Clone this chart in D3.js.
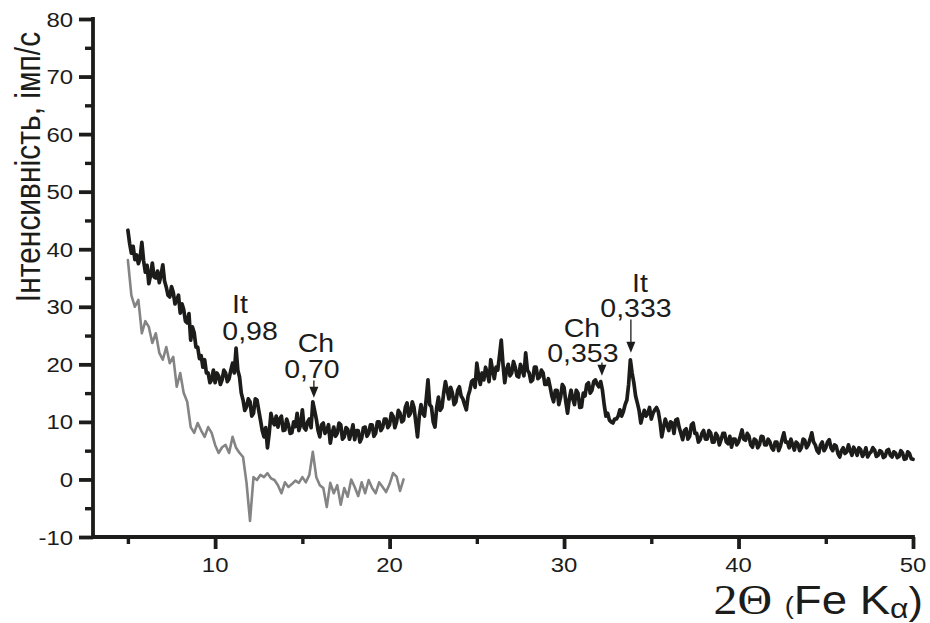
<!DOCTYPE html>
<html><head><meta charset="utf-8">
<script src="https://cdn.jsdelivr.net/npm/d3@7"></script>
<style>body{margin:0;background:#fff}svg{display:block}</style>
</head><body>
<svg id="chart" width="930" height="623"></svg>
<script>
// ---- data ----
const xMajorTicks = [10, 20, 30, 40, 50];
const xMinorTicks = [5, 15, 25, 35, 45];
const yMajorTicks = [-10, 0, 10, 20, 30, 40, 50, 60, 70, 80];
const yMinorTicks = [-5, 5, 15, 25, 35, 45, 55, 65, 75];

// sample: 2θ from 5.0 to 50.0, step 0.1
const sampleStart = 5.0;
const sampleStep = 0.1;
const sampleIntensity = [
  43.3, 41.0, 39.3, 40.5, 38.2, 39.0, 37.5, 38.5, 41.2, 38.0,
  36.0, 37.2, 34.0, 35.5, 37.6, 35.2, 35.0, 36.2, 34.2, 35.5,
  37.3, 34.5, 33.4, 32.0, 31.7, 33.5, 32.5, 30.5, 31.2, 32.0,
  28.9, 30.5, 29.5, 27.5, 27.2, 28.8, 24.2, 26.5, 25.5, 23.0,
  23.0, 21.0, 21.5, 19.5, 20.8, 18.5, 18.5, 16.8, 17.3, 19.0,
  16.8, 18.5, 18.0, 16.5, 17.3, 19.0, 18.5, 17.0, 17.5, 19.0,
  20.2, 18.5, 22.8, 19.0, 17.8, 15.0, 13.8, 12.0, 12.6, 14.0,
  13.5, 11.0, 11.5, 14.0, 13.8, 12.0, 10.3, 8.5, 7.4, 9.0,
  5.5, 8.0, 11.5, 10.0, 9.5, 11.0, 9.1, 10.5, 11.0, 8.5,
  8.6, 10.5, 9.5, 8.0, 8.1, 10.0, 9.2, 11.5, 8.5, 9.5,
  12.1, 9.0, 8.6, 10.0, 10.5, 9.0, 13.5, 12.0, 10.5, 8.5,
  7.4, 9.5, 9.8, 8.0, 8.5, 9.5, 6.3, 8.0, 9.1, 7.5,
  8.0, 9.8, 9.5, 7.0, 7.4, 9.0, 8.7, 7.0, 8.1, 9.5,
  6.9, 8.5, 8.5, 6.5, 7.2, 9.0, 9.1, 7.5, 8.0, 9.5,
  9.5, 7.5, 8.0, 10.0, 10.0, 8.5, 9.0, 10.5, 10.5, 9.0,
  9.5, 11.5, 11.0, 9.0, 10.0, 12.0, 11.5, 10.0, 10.3, 12.5,
  13.3, 11.0, 11.5, 13.5, 12.5, 10.0, 7.4, 11.0, 13.0, 11.5,
  11.0, 14.0, 17.3, 13.0, 12.6, 10.0, 9.1, 12.5, 14.3, 12.0,
  12.5, 15.0, 17.0, 15.5, 14.0, 16.0, 15.0, 13.0, 13.5, 15.5,
  16.1, 14.5, 14.0, 13.0, 12.1, 14.5, 15.5, 17.0, 17.3, 16.0,
  20.2, 18.0, 16.5, 18.5, 17.3, 19.5, 18.5, 17.0, 20.8, 19.0,
  17.5, 19.5, 19.0, 21.5, 24.2, 20.0, 16.8, 19.0, 20.0, 18.0,
  18.5, 20.5, 19.5, 18.0, 17.8, 20.0, 19.0, 18.0, 22.0, 19.0,
  18.5, 17.0, 17.3, 19.5, 19.5, 17.5, 17.8, 19.0, 18.5, 16.5,
  16.5, 17.5, 16.1, 14.5, 13.5, 15.5, 15.5, 13.0, 14.3, 16.5,
  16.0, 13.5, 11.5, 14.0, 15.5, 14.0, 13.0, 15.5, 15.0, 12.5,
  12.6, 15.0, 14.5, 16.5, 16.8, 15.0, 15.5, 17.0, 17.3, 16.5,
  16.1, 17.0, 15.5, 13.0, 11.0, 11.5, 10.3, 10.0, 9.8, 10.5,
  10.5, 11.0, 12.1, 11.0, 11.8, 13.0, 13.8, 16.5, 20.8, 18.5,
  16.8, 14.5, 13.3, 12.0, 9.8, 11.0, 12.0, 11.0, 11.5, 12.5,
  10.5, 11.5, 12.1, 12.5, 11.8, 10.0, 7.4, 9.0, 10.5, 9.5,
  8.5, 10.0, 9.8, 8.0, 10.3, 10.5, 9.0, 8.0, 6.9, 8.5,
  8.8, 7.0, 7.5, 9.5, 9.8, 8.0, 8.0, 6.5, 6.9, 8.0,
  8.5, 7.0, 7.0, 8.5, 8.1, 6.5, 6.5, 8.0, 7.5, 6.0,
  6.9, 8.0, 8.0, 6.5, 6.2, 7.5, 5.6, 7.0, 7.0, 6.0,
  6.5, 7.5, 8.6, 7.0, 6.8, 8.0, 7.5, 6.0, 5.6, 7.0,
  6.8, 5.5, 6.0, 7.5, 7.4, 6.0, 6.0, 7.0, 6.5, 5.5,
  5.1, 6.5, 6.5, 5.0, 5.8, 7.0, 8.1, 6.5, 6.5, 5.5,
  7.0, 6.0, 5.1, 6.5, 6.2, 5.0, 5.5, 7.0, 6.8, 5.5,
  6.0, 7.0, 8.1, 6.5, 6.0, 5.0, 4.6, 6.0, 6.5, 5.0,
  5.5, 6.5, 6.9, 5.5, 5.0, 6.0, 5.8, 4.5, 3.9, 5.0,
  5.5, 4.5, 4.8, 6.0, 5.0, 4.2, 5.6, 5.0, 4.2, 5.5,
  5.2, 4.0, 4.5, 5.5, 3.9, 4.5, 4.8, 5.5, 5.1, 4.0,
  4.2, 5.0, 4.8, 3.8, 4.0, 5.0, 5.2, 4.2, 3.9, 4.8,
  4.6, 3.8, 4.0, 5.0, 4.6, 3.5, 3.6, 4.8, 4.5, 3.6,
  3.5
];

// reference/background: 2θ from 5.0 to 20.8, step 0.2
const referenceStart = 5.0;
const referenceStep = 0.2;
const referenceIntensity = [
  38.1, 32.0, 30.0, 31.2, 25.4, 27.5, 26.5, 23.7, 25.4, 22.0,
  20.8, 23.0, 20.2, 21.3, 16.1, 18.5, 15.0, 13.5, 9.1, 8.1,
  9.8, 8.5, 7.4, 9.1, 8.1, 6.0, 4.6, 5.6, 6.0, 4.6,
  7.4, 5.5, 4.6, 3.9, -0.6, -7.2, 0.4, -0.1, 0.8, 0.4,
  1.1, 0.2, -0.1, -1.0, -2.4, -0.5, -1.3, -0.8, -0.2, -0.6,
  0.4, -0.5, 0.8, 4.8, 0.4, -1.0, -1.5, -4.8, -0.6, -2.4,
  -1.0, -4.4, -1.5, -3.0, 0.0, -1.3, -2.9, -0.5, -2.4, -0.1,
  -1.5, -2.4, -0.5, -1.3, -2.2, -0.8, 1.1, 0.5, -2.0, 0.0
];

// peak annotations (2θ, intensity coordinates)
const annotations = [
  {phase: "It", d: "0,98",  phaseX: 11.42, phaseY: 28.9, dX: 12.0,  dY: 24.2, arrowX: null,  arrowTop: null, arrowTip: null},
  {phase: "Ch", d: "0,70",  phaseX: 15.78, phaseY: 22.1, dX: 15.55, dY: 17.6, arrowX: 15.66, arrowTop: 17.2, arrowTip: 14.2},
  {phase: "Ch", d: "0,353", phaseX: 31.02, phaseY: 24.8, dX: 31.08, dY: 20.4, arrowX: 32.17, arrowTop: 20.3, arrowTip: 18.0},
  {phase: "It", d: "0,333", phaseX: 34.35, phaseY: 32.6, dX: 34.12, dY: 28.2, arrowX: 33.83, arrowTop: 27.8, arrowTip: 22.0}
];

// ---- drawing ----
const ink = "#1c1c1a";
const greyInk = "#848484";
const stretch = 1.14;
const svg = d3.select("#chart");
const x = d3.scaleLinear().domain([3, 50]).range([93, 913]);
const y = d3.scaleLinear().domain([-10, 80]).range([537, 19]);

const toPoints = (start, step, vals) => vals.map((v, i) => [start + i * step, v]);
const line = d3.line().x(d => x(d[0])).y(d => y(d[1]));

svg.append("path")
  .attr("d", line(toPoints(referenceStart, referenceStep, referenceIntensity)))
  .attr("fill", "none").attr("stroke", greyInk).attr("stroke-width", 2.6)
  .attr("stroke-linejoin", "round").attr("stroke-linecap", "round");

svg.append("path")
  .attr("d", line(toPoints(sampleStart, sampleStep, sampleIntensity)))
  .attr("fill", "none").attr("stroke", ink).attr("stroke-width", 3.7)
  .attr("stroke-linejoin", "round").attr("stroke-linecap", "round");

// axes
function styleAxis(g, w) {
  g.select(".domain").remove();
  g.selectAll(".tick line").attr("stroke", ink).attr("stroke-width", w);
}
svg.append("g").attr("transform", `translate(${x(3)},0)`)
  .call(d3.axisLeft(y).tickValues(yMajorTicks).tickSize(14).tickFormat(""))
  .call(g => styleAxis(g, 3.8));
svg.append("g").attr("transform", `translate(${x(3)},0)`)
  .call(d3.axisLeft(y).tickValues(yMinorTicks).tickSize(8).tickFormat(""))
  .call(g => styleAxis(g, 3.4));
svg.append("g").attr("transform", `translate(0,${y(-10)})`)
  .call(d3.axisBottom(x).tickValues(xMajorTicks).tickSize(12).tickFormat(""))
  .call(g => styleAxis(g, 3.8));
svg.append("g").attr("transform", `translate(0,${y(-10)})`)
  .call(d3.axisBottom(x).tickValues(xMinorTicks).tickSize(7).tickFormat(""))
  .call(g => styleAxis(g, 3.4));

svg.append("path")
  .attr("d", `M${x(3)},${y(80)}V${y(-10)}H${x(50)}`)
  .attr("fill", "none").attr("stroke", ink).attr("stroke-width", 3.8)
  .attr("stroke-linecap", "square");

const font = "'Liberation Sans', Arial, sans-serif";

// tick labels
yMajorTicks.forEach(v => {
  svg.append("text")
    .attr("transform", `translate(73,${y(v)}) scale(${stretch},1)`)
    .attr("dy", "0.36em").attr("text-anchor", "end")
    .attr("font-family", font).attr("font-size", 21).attr("fill", ink)
    .text(v);
});
xMajorTicks.forEach(v => {
  svg.append("text")
    .attr("transform", `translate(${x(v)},572) scale(${stretch},1)`)
    .attr("text-anchor", "middle")
    .attr("font-family", font).attr("font-size", 21).attr("fill", ink)
    .text(v);
});

// y title
svg.append("text")
  .attr("transform", `translate(40,167) scale(${stretch},1) rotate(-90)`)
  .attr("text-anchor", "middle")
  .attr("font-family", font).attr("font-size", 30).attr("fill", ink)
  .text("Інтенсивність, імп/с");

// x title
const xt = svg.append("text")
  .attr("transform", `translate(923,614) scale(${stretch},1)`)
  .attr("text-anchor", "end")
  .attr("font-family", font).attr("font-size", 40).attr("fill", ink);
xt.append("tspan").attr("font-family", "'Liberation Serif', 'Times New Roman', serif").attr("font-size", 42).text("2Θ");
xt.append("tspan").text(" ");
xt.append("tspan").attr("font-size", 24).text("(");
xt.append("tspan").text("Fe K");
xt.append("tspan").attr("font-size", 28).attr("dy", 4).text("α");
xt.append("tspan").attr("font-size", 38).attr("dy", -4).text(")");

// annotations
annotations.forEach(a => {
  svg.append("text")
    .attr("transform", `translate(${x(a.phaseX)},${y(a.phaseY)}) scale(${stretch},1)`)
    .attr("text-anchor", "middle")
    .attr("font-family", font).attr("font-size", 25).attr("fill", ink)
    .text(a.phase);
  svg.append("text")
    .attr("transform", `translate(${x(a.dX)},${y(a.dY)}) scale(${stretch},1)`)
    .attr("text-anchor", "middle")
    .attr("font-family", font).attr("font-size", 25).attr("fill", ink)
    .text(a.d);
  if (a.arrowX !== null) {
    const ax = x(a.arrowX), top = y(a.arrowTop), tip = y(a.arrowTip);
    svg.append("line")
      .attr("x1", ax).attr("x2", ax).attr("y1", top).attr("y2", tip - 8)
      .attr("stroke", ink).attr("stroke-width", 1.3);
    svg.append("path")
      .attr("d", `M${ax - 4.5},${tip - 11}L${ax + 4.5},${tip - 11}L${ax},${tip}Z`)
      .attr("fill", ink);
  }
});
</script>
</body></html>
